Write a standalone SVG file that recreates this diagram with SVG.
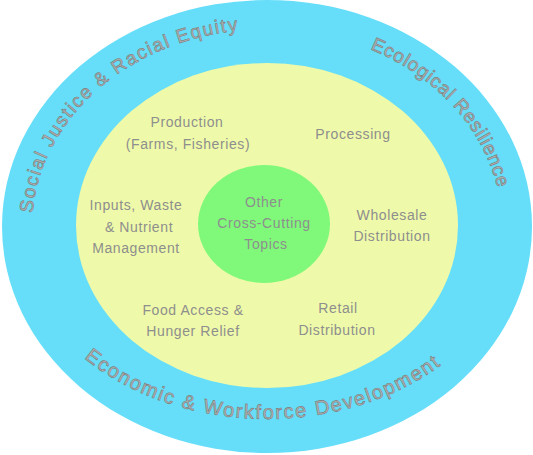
<svg xmlns="http://www.w3.org/2000/svg" xmlns:xlink="http://www.w3.org/1999/xlink" width="533" height="455" viewBox="0 0 533 455">
<style>
.lbl{font-family:"Liberation Sans","Noto Sans",sans-serif;font-size:14px;fill:#8e8e8e;text-anchor:middle;letter-spacing:0.6px}
.ring{font-family:"Liberation Sans","Noto Sans",sans-serif;font-size:19px;fill:#b4b4b4;stroke:#7c7c7c;stroke-width:0.6px}
.tl{letter-spacing:1.63px}
.tr{letter-spacing:0.78px}
.bt{font-size:20px;letter-spacing:1.75px}
</style>
<defs>
<path id="pTL" d="M32.6,213.2 A235,198 0 0,1 242.4,30.1"/>
<path id="pTR" d="M370,49 A235,198 0 0,1 497.7,189.2"/>
<path id="pB" d="M84.2,357.9 A250,192 0 0,0 444.7,362.1"/>
</defs>
<rect width="533" height="455" fill="#ffffff"/>
<g id="outer-ring">
<ellipse cx="267" cy="226.5" rx="265" ry="226.5" fill="#66def9"/>
<text class="ring tl"><textPath xlink:href="#pTL" href="#pTL" startOffset="0">Social</textPath></text>
<text class="ring tl"><textPath xlink:href="#pTL" href="#pTL" startOffset="68.4">Justice</textPath></text>
<text class="ring tl"><textPath xlink:href="#pTL" href="#pTL" startOffset="145.9">&amp;</textPath></text>
<text class="ring tl"><textPath xlink:href="#pTL" href="#pTL" startOffset="167.1">Racial</textPath></text>
<text class="ring tl"><textPath xlink:href="#pTL" href="#pTL" startOffset="236.5">Equity</textPath></text>
<text class="ring tr"><textPath xlink:href="#pTR" href="#pTR" startOffset="0">Ecological</textPath></text>
<text class="ring tr"><textPath xlink:href="#pTR" href="#pTR" startOffset="100.5">Resilience</textPath></text>
<text class="ring bt"><textPath xlink:href="#pB" href="#pB" startOffset="0">Economic</textPath></text>
<text class="ring bt"><textPath xlink:href="#pB" href="#pB" startOffset="109.1">&amp;</textPath></text>
<text class="ring bt"><textPath xlink:href="#pB" href="#pB" startOffset="131.5">Workforce</textPath></text>
<text class="ring bt"><textPath xlink:href="#pB" href="#pB" startOffset="245.7">Development</textPath></text>
</g>
<g id="supply-chain">
<ellipse cx="267" cy="225.5" rx="191" ry="162.5" fill="#eefaa9"/>
</g>
<g id="production">
<text class="lbl" x="187" y="127">Production</text>
<text class="lbl" x="188" y="149">(Farms, Fisheries)</text>
</g>
<g id="processing">
<text class="lbl" x="353" y="139">Processing</text>
</g>
<g id="wholesale">
<text class="lbl" x="392" y="220">Wholesale</text>
<text class="lbl" x="392" y="241">Distribution</text>
</g>
<g id="retail">
<text class="lbl" x="338" y="313">Retail</text>
<text class="lbl" x="337" y="335">Distribution</text>
</g>
<g id="food-access">
<text class="lbl" x="193" y="315">Food Access &amp;</text>
<text class="lbl" x="193" y="336">Hunger Relief</text>
</g>
<g id="inputs">
<text class="lbl" x="136" y="210">Inputs, Waste</text>
<text class="lbl" x="139" y="232">&amp; Nutrient</text>
<text class="lbl" x="136" y="253">Management</text>
</g>
<g id="other">
<ellipse cx="264" cy="224" rx="66" ry="59" fill="#80f97a"/>
<text class="lbl" x="264" y="207">Other</text>
<text class="lbl" x="264" y="228">Cross-Cutting</text>
<text class="lbl" x="266" y="249">Topics</text>
</g>
<g id="connectors"></g>
</svg>
